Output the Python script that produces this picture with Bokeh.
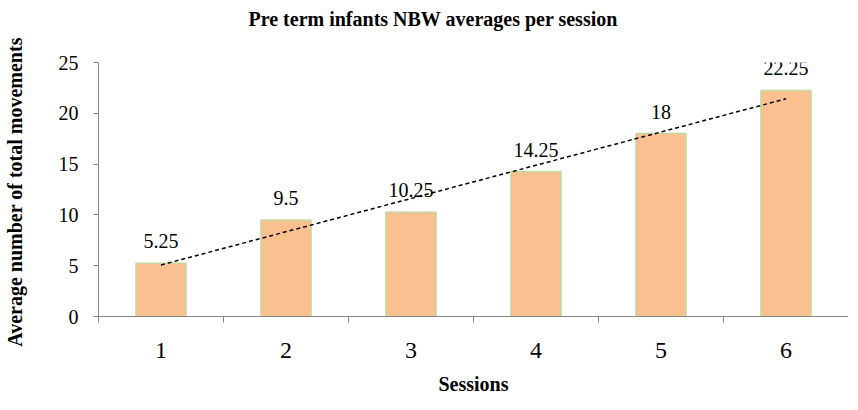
import numpy as np
from bokeh.plotting import figure
from bokeh.models import (ColumnDataSource, Range1d, FixedTicker, LabelSet, Title)
from bokeh.core.properties import value
from bokeh.embed import file_html
from bokeh.resources import INLINE

# data
sessions = [1, 2, 3, 4, 5, 6]
averages = [5.25, 9.5, 10.25, 14.25, 18, 22.25]
value_labels = ["5.25", "9.5", "10.25", "14.25", "18", "22.25"]
tick_labels = ["1", "2", "3", "4", "5", "6"]
y_ticks = [0, 5, 10, 15, 20, 25]

title_text = "Pre term infants NBW averages per session"
x_title = "Sessions"
y_title = "Average number of total  movements"

SERIF = "Liberation Serif"
GREY = "#868686"

src = ColumnDataSource(dict(x=sessions, top=averages, lab=value_labels))

p = figure(frame_width=750, frame_height=254, output_backend="svg", toolbar_location=None,
           x_range=Range1d(0.5, 6.5), y_range=Range1d(0, 25),
           min_border_left=92, min_border_right=0, min_border_top=54,
           min_border_bottom=0)
p.outline_line_color = None
p.xgrid.grid_line_color = None
p.ygrid.grid_line_color = None
p.background_fill_color = "white"
p.border_fill_color = "white"

p.vbar(x="x", top="top", width=0.4, source=src, fill_color="#FAC090",
       line_color="#C3D69B", line_width=1.5)

# linear trend line
coef = np.polyfit(np.array(sessions, float), np.array(averages, float), 1)
tx = np.array([sessions[0], sessions[-1]], float)
p.line(tx, np.polyval(coef, tx), line_color="black", line_dash="4 3", line_width=1.5)

labels = LabelSet(x="x", y="top", text="lab", source=src, text_align="center",
                  text_baseline="middle", y_offset=22, text_font=value(SERIF),
                  text_font_size=value("20px"), text_color="black")
p.add_layout(labels)

# x axis
xa = p.xaxis[0]
xa.ticker = FixedTicker(ticks=sessions, minor_ticks=[s - 0.5 for s in sessions] + [sessions[-1] + 0.5])
xa.major_label_overrides = {s: t for s, t in zip(sessions, tick_labels)}
xa.major_tick_out = 0
xa.major_tick_in = 0
xa.minor_tick_out = 6
xa.minor_tick_in = 0
xa.minor_tick_line_color = GREY
xa.axis_line_color = GREY
xa.major_label_text_font = SERIF
xa.major_label_text_font_size = "24px"
xa.major_label_text_color = "black"
xa.major_label_standoff = 20
xa.axis_label = x_title
xa.axis_label_text_font = SERIF
xa.axis_label_text_font_style = "bold"
xa.axis_label_text_font_size = "20px"
xa.axis_label_text_color = "black"
xa.axis_label_standoff = 12

# y axis
ya = p.yaxis[0]
ya.ticker = FixedTicker(ticks=y_ticks)
ya.major_tick_out = 5
ya.major_tick_in = 0
ya.minor_tick_line_color = None
ya.major_tick_line_color = GREY
ya.axis_line_color = GREY
ya.major_label_text_font = SERIF
ya.major_label_text_font_size = "20px"
ya.major_label_text_color = "black"
ya.major_label_standoff = 15
ya.axis_label = y_title
ya.axis_label_text_font = SERIF
ya.axis_label_text_font_style = "bold"
ya.axis_label_text_font_size = "20px"
ya.axis_label_text_color = "black"
ya.axis_label_standoff = 30

# spacer between frame and title
p.add_layout(Title(text=" ", text_font_size="14px"), "above")

p.title.text = title_text
p.title.align = "left"
p.title.offset = 150
p.title.text_font = SERIF
p.title.text_font_style = "bold"
p.title.text_font_size = "20px"
p.title.text_color = "black"

open("out.html", "w").write(file_html(p, INLINE))
